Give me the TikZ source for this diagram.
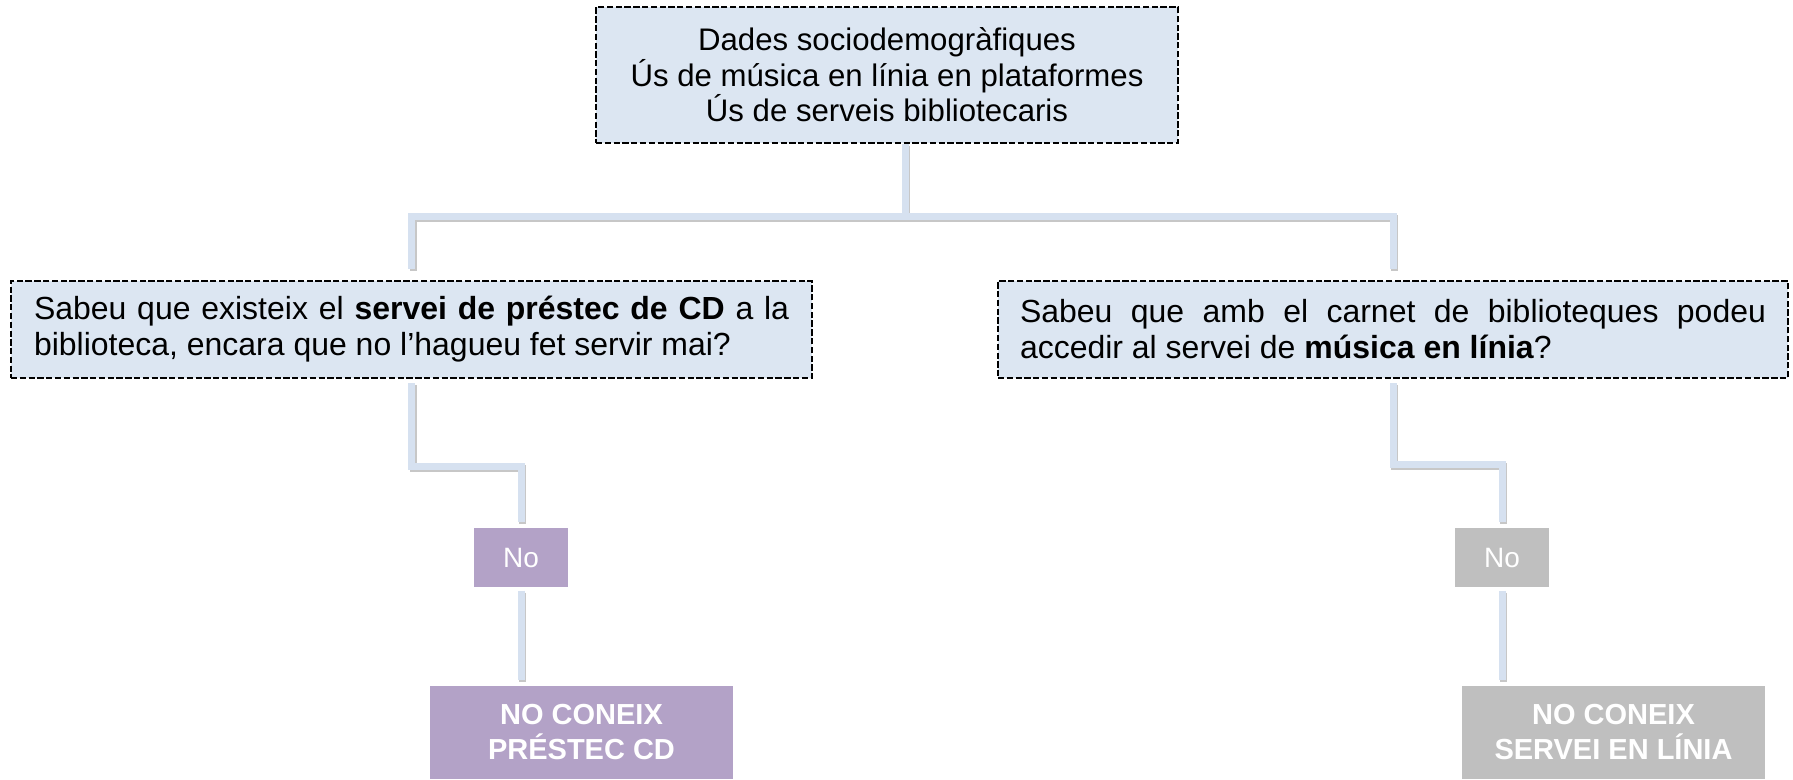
\documentclass[tikz,border=0pt]{standalone}
\usepackage{fontspec}
\setmainfont{Liberation Sans}
\usetikzlibrary{positioning, calc}
\definecolor{boxblue}{RGB}{220,230,242}
\definecolor{linkblue}{RGB}{214,225,240}
\definecolor{lilac}{RGB}{179,162,199}
\definecolor{greybox}{RGB}{191,191,191}
\hyphenpenalty=10000
\exhyphenpenalty=10000

\begin{document}
\begin{tikzpicture}[
    topbox/.style={draw=black, line width=0.75pt, dash pattern=on 1.8pt off 0.7pt, fill=boxblue,
        minimum width=5.82cm, minimum height=1.36cm, align=center,
        font=\fontsize{8.87}{10.1}\selectfont},
    qbox/.style={draw=black, line width=0.75pt, dash pattern=on 1.8pt off 0.7pt, fill=boxblue,
        minimum height=0.97cm, inner ysep=0pt, align=justify,
        font=\fontsize{9.1}{10.25}\selectfont},
    nobox/.style={fill=#1, text=white, minimum width=0.94cm, minimum height=0.59cm,
        inner sep=0pt, font=\fontsize{7.97}{9}\selectfont},
    resbox/.style={fill=#1, text=white, minimum width=3.03cm, minimum height=0.93cm,
        inner sep=0pt, align=center, font=\fontsize{8.25}{9.96}\selectfont\bfseries},
    conn/.style={draw=linkblue, line width=0.07cm,
        preaction={draw=black!22, line width=0.07cm, transform canvas={shift={(0.015cm,-0.02cm)}}}}
]
\useasboundingbox (0,0) rectangle (17.93,-7.79);
% top box
\node[topbox] (top) at (8.87,-0.75) {Dades sociodemogràfiques\\Ús de música en línia en plataformes\\Ús de serveis bibliotecaris};
% question row
\node[qbox, text width=7.55cm, inner xsep=0.23cm] (q1) at (4.115,-3.295)
    {Sabeu que existeix el \textbf{servei de préstec de CD} a la biblioteca, encara que no l’hagueu fet servir mai?};
\node[qbox, text width=7.46cm, inner xsep=0.22cm] (q2) at (13.93,-3.295)
    {Sabeu que amb el carnet de biblioteques podeu accedir al servei de \textbf{música en línia}?};
% answer boxes
\node[nobox=lilac] (no1) at (5.21,-5.575) {No};
\node[nobox=greybox] (no2) at (15.02,-5.575) {No};
% result boxes
\node[resbox=lilac] (res1) at (5.815,-7.325) {NO CONEIX\\PRÉSTEC CD};
\node[resbox=greybox] (res2) at (16.135,-7.325) {NO CONEIX\\SERVEI EN LÍNIA};
% connectors
\foreach \q in {q1,q2} \draw[conn] ([xshift=0.18cm]top.south) |- ([yshift=0.63cm]\q.north) -- ([yshift=0.11cm]\q.north);
\draw[conn] ([yshift=-0.04cm]q1.south) -- ++(0,-0.83) -| ([yshift=0.05cm]no1.north);
\draw[conn] ([yshift=-0.04cm]q2.south) -- ++(0,-0.81) -| ([yshift=0.05cm]no2.north);
\foreach \n/\r in {no1/res1,no2/res2} \draw[conn] ([yshift=-0.03cm]\n.south) -- ([yshift=0.05cm]\r.north -| \n.south);
\end{tikzpicture}
\end{document}
